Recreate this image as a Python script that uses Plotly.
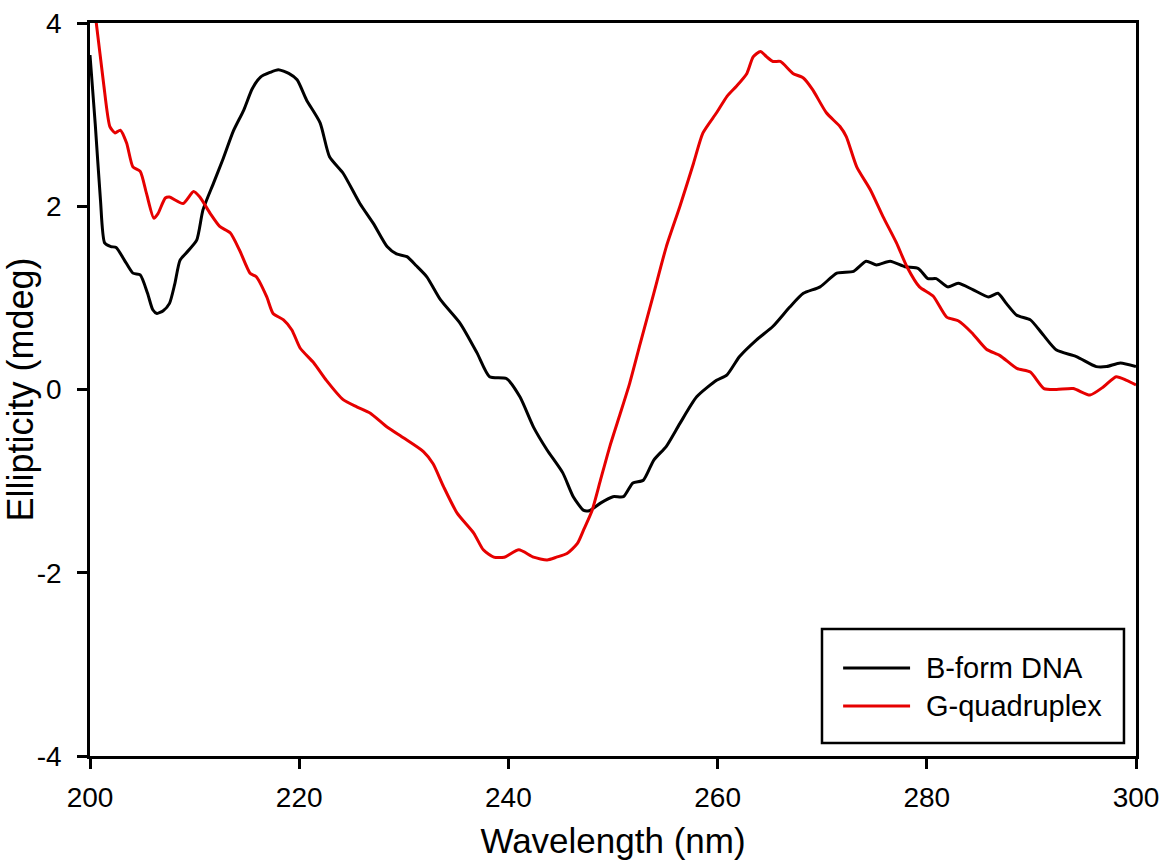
import plotly.graph_objects as go

# CD spectra: wavelength (nm) and ellipticity (mdeg)
bform_wl = [200.0, 200.5, 201.0, 201.4, 202.0, 202.5, 203.3, 204.1, 204.8, 205.5,
            206.0, 206.4, 207.0, 207.6, 208.1, 208.6, 209.2, 210.2, 210.8, 211.8,
            212.7, 213.7, 214.7, 215.5, 216.3, 217.2, 218.0, 219.0, 219.8, 220.7,
            222.0, 222.9, 224.2, 225.8, 227.1, 228.4, 229.3, 230.3, 231.2, 232.2,
            233.5, 235.4, 237.0, 238.2, 239.8, 241.1, 242.4, 243.7, 245.2, 246.2,
            247.2, 247.8, 248.8, 250.0, 251.0, 251.9, 252.9, 253.9, 255.1, 256.4,
            258.0, 259.9, 260.9, 262.1, 263.7, 265.3, 266.9, 268.2, 269.8, 271.4,
            273.0, 274.2, 275.2, 276.5, 277.9, 279.2, 280.1, 280.9, 282.0, 283.0,
            284.4, 285.9, 286.8, 287.6, 288.6, 289.9, 291.1, 292.4, 294.3, 296.2,
            297.2, 298.5, 300.0]
bform_cd = [3.65, 2.90, 2.07, 1.60, 1.56, 1.55, 1.41, 1.27, 1.25, 1.05,
            0.87, 0.83, 0.86, 0.94, 1.15, 1.41, 1.49, 1.63, 1.96, 2.25,
            2.51, 2.82, 3.05, 3.28, 3.41, 3.46, 3.49, 3.45, 3.38, 3.16,
            2.91, 2.54, 2.36, 2.03, 1.81, 1.56, 1.48, 1.45, 1.35, 1.23,
            0.98, 0.72, 0.40, 0.14, 0.12, -0.08, -0.41, -0.66, -0.91, -1.17,
            -1.32, -1.32, -1.24, -1.17, -1.17, -1.02, -0.99, -0.77, -0.62, -0.37,
            -0.08, 0.10, 0.16, 0.36, 0.54, 0.69, 0.90, 1.05, 1.12, 1.27,
            1.29, 1.40, 1.36, 1.40, 1.34, 1.32, 1.21, 1.21, 1.12, 1.16,
            1.09, 1.01, 1.05, 0.94, 0.81, 0.76, 0.60, 0.43, 0.36, 0.25,
            0.25, 0.29, 0.25]

gquad_wl = [200.0, 200.6, 201.3, 201.9, 202.4, 202.9, 203.5, 204.1, 204.8, 205.4,
            206.1, 206.5, 207.2, 207.6, 208.9, 209.9, 210.5, 211.5, 212.4, 213.4,
            214.3, 215.3, 215.9, 216.9, 217.5, 218.5, 219.3, 220.1, 221.4, 222.6,
            224.2, 225.5, 226.8, 228.4, 230.0, 231.9, 232.8, 233.8, 235.1, 236.7,
            237.6, 238.6, 239.6, 241.0, 242.4, 243.7, 244.6, 245.6, 246.6, 247.2,
            248.0, 248.8, 249.7, 250.7, 251.6, 252.6, 253.9, 255.1, 256.4, 257.7,
            258.6, 259.9, 260.9, 261.8, 262.8, 263.4, 264.1, 264.7, 265.3, 266.0,
            267.2, 268.2, 269.1, 270.4, 271.7, 272.3, 273.3, 274.6, 275.8, 277.1,
            278.1, 279.3, 280.6, 281.9, 283.0, 284.3, 285.7, 287.0, 288.6, 289.9,
            291.2, 292.4, 294.0, 295.6, 296.9, 298.1, 299.1, 300.0]
gquad_cd = [4.50, 4.00, 3.34, 2.87, 2.80, 2.83, 2.69, 2.43, 2.38, 2.14,
            1.87, 1.92, 2.09, 2.10, 2.03, 2.16, 2.10, 1.92, 1.78, 1.71,
            1.52, 1.27, 1.23, 1.01, 0.83, 0.76, 0.65, 0.45, 0.29, 0.10,
            -0.11, -0.19, -0.26, -0.41, -0.53, -0.68, -0.81, -1.06, -1.35, -1.57,
            -1.75, -1.83, -1.83, -1.75, -1.83, -1.86, -1.83, -1.79, -1.68, -1.53,
            -1.32, -0.99, -0.62, -0.26, 0.07, 0.50, 1.05, 1.56, 2.00, 2.47,
            2.80, 3.02, 3.20, 3.31, 3.45, 3.63, 3.69, 3.63, 3.58, 3.58,
            3.45, 3.40, 3.27, 3.02, 2.87, 2.76, 2.43, 2.18, 1.89, 1.60,
            1.34, 1.12, 1.02, 0.79, 0.75, 0.62, 0.44, 0.37, 0.23, 0.19,
            0.01, 0.00, 0.01, -0.06, 0.03, 0.14, 0.10, 0.05]

series_names = ["B-form DNA", "G-quadruplex"]
series_colors = ["#000000", "#e60000"]

x_ticks = [200, 220, 240, 260, 280, 300]
y_ticks = [-4, -2, 0, 2, 4]
y_tick_text = ["-4", "-2", "0", "2", "4"]

FONT = "Liberation Sans, Arial, sans-serif"

fig = go.Figure()
for wl, cd, name, color in zip([bform_wl, gquad_wl], [bform_cd, gquad_cd],
                               series_names, series_colors):
    fig.add_trace(go.Scatter(x=wl, y=cd, mode="lines", name=name,
                             line=dict(color=color, width=3,
                                       shape="spline", smoothing=0.6),
                             showlegend=False))

# boxed legend in the lower-right corner of the plot area
leg_x0, leg_x1, leg_y0, leg_y1 = 0.6998, 0.9885, 0.0177, 0.1733
fig.add_shape(type="rect", xref="paper", yref="paper",
              x0=leg_x0, x1=leg_x1, y0=leg_y0, y1=leg_y1,
              line=dict(color="black", width=2.5), fillcolor="white")
for i, (name, color) in enumerate(zip(series_names, series_colors)):
    yy = 0.120 - i * 0.0518
    fig.add_shape(type="line", xref="paper", yref="paper",
                  x0=0.720, x1=0.784, y0=yy, y1=yy,
                  line=dict(color=color, width=3))
    fig.add_annotation(xref="paper", yref="paper", x=0.797, y=yy,
                       text=name, showarrow=False, xanchor="left",
                       yanchor="middle",
                       font=dict(family=FONT, size=29, color="black"))

axis_common = dict(showline=True, linecolor="black", linewidth=2.5,
                   mirror=True, ticks="outside", ticklen=10, tickwidth=2.5,
                   tickcolor="black", showgrid=False, zeroline=False,
                   automargin=False,
                   tickfont=dict(family=FONT, size=28, color="black"))

fig.update_xaxes(range=[200, 300], tickvals=x_ticks,
                 ticklabelstandoff=5,
                 title=dict(text="Wavelength (nm)",
                            font=dict(family=FONT, size=35, color="black"),
                            standoff=18),
                 **axis_common)
fig.update_yaxes(range=[-4, 4], tickvals=y_ticks, ticktext=y_tick_text,
                 ticklabelstandoff=10,
                 title=dict(text="Ellipticity (mdeg)",
                            font=dict(family=FONT, size=36, color="black"),
                            standoff=0),
                 **axis_common)

fig.update_layout(width=1163, height=860,
                  margin=dict(l=90, r=27, t=23, b=104),
                  paper_bgcolor="white", plot_bgcolor="white",
                  font=dict(family=FONT, color="black"))

fig.write_html("out.html")
